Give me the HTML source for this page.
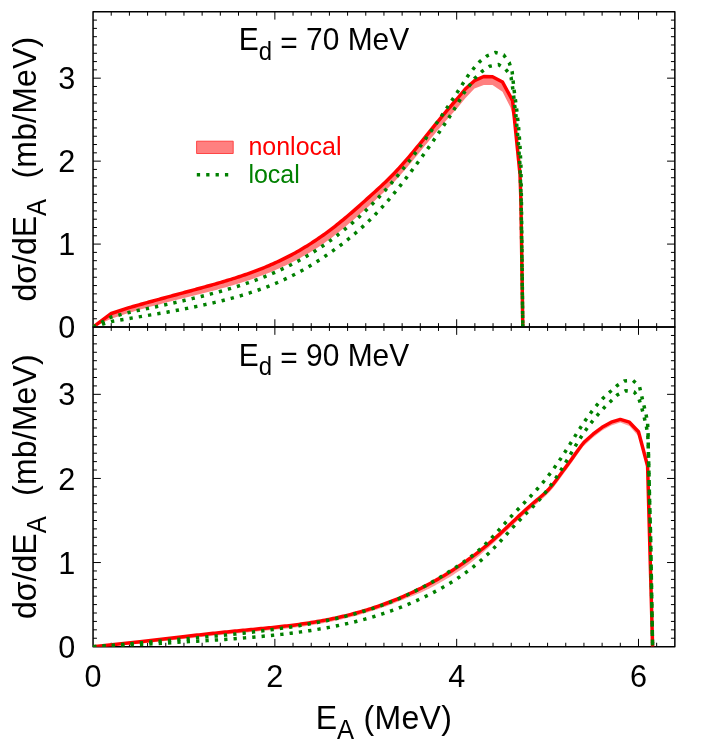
<!DOCTYPE html>
<html><head><meta charset="utf-8"><title>chart</title>
<style>
html,body{margin:0;padding:0;background:#fff;}
body{width:705px;height:743px;overflow:hidden;font-family:"Liberation Sans",sans-serif;}
svg{display:block;will-change:transform;}
text{font-kerning:none;font-variant-ligatures:none;}
</style></head><body>
<svg width="705" height="743" viewBox="0 0 705 743">
<rect width="705" height="743" fill="#fff"/>
<defs><clipPath id="c1"><rect x="93.05" y="11.8" width="581.8000000000001" height="315.25"/></clipPath><clipPath id="c2"><rect x="93.05" y="327.05" width="581.8000000000001" height="319.59999999999997"/></clipPath></defs>
<path d="M111.23,11.8 v3.9 M111.23,327.05 v-3.9 M129.41,11.8 v3.9 M129.41,327.05 v-3.9 M147.59,11.8 v3.9 M147.59,327.05 v-3.9 M165.78,11.8 v3.9 M165.78,327.05 v-3.9 M183.96,11.8 v3.9 M183.96,327.05 v-3.9 M202.14,11.8 v3.9 M202.14,327.05 v-3.9 M220.32,11.8 v3.9 M220.32,327.05 v-3.9 M238.50,11.8 v3.9 M238.50,327.05 v-3.9 M256.68,11.8 v3.9 M256.68,327.05 v-3.9 M274.86,11.8 v7.8 M274.86,327.05 v-7.8 M293.04,11.8 v3.9 M293.04,327.05 v-3.9 M311.23,11.8 v3.9 M311.23,327.05 v-3.9 M329.41,11.8 v3.9 M329.41,327.05 v-3.9 M347.59,11.8 v3.9 M347.59,327.05 v-3.9 M365.77,11.8 v3.9 M365.77,327.05 v-3.9 M383.95,11.8 v3.9 M383.95,327.05 v-3.9 M402.13,11.8 v3.9 M402.13,327.05 v-3.9 M420.31,11.8 v3.9 M420.31,327.05 v-3.9 M438.49,11.8 v3.9 M438.49,327.05 v-3.9 M456.68,11.8 v7.8 M456.68,327.05 v-7.8 M474.86,11.8 v3.9 M474.86,327.05 v-3.9 M493.04,11.8 v3.9 M493.04,327.05 v-3.9 M511.22,11.8 v3.9 M511.22,327.05 v-3.9 M529.40,11.8 v3.9 M529.40,327.05 v-3.9 M547.58,11.8 v3.9 M547.58,327.05 v-3.9 M565.76,11.8 v3.9 M565.76,327.05 v-3.9 M583.94,11.8 v3.9 M583.94,327.05 v-3.9 M602.12,11.8 v3.9 M602.12,327.05 v-3.9 M620.31,11.8 v3.9 M620.31,327.05 v-3.9 M638.49,11.8 v7.8 M638.49,327.05 v-7.8 M656.67,11.8 v3.9 M656.67,327.05 v-3.9 M93.05,318.75 h3.9 M674.85,318.75 h-3.9 M93.05,310.46 h3.9 M674.85,310.46 h-3.9 M93.05,302.16 h3.9 M674.85,302.16 h-3.9 M93.05,293.87 h3.9 M674.85,293.87 h-3.9 M93.05,285.57 h3.9 M674.85,285.57 h-3.9 M93.05,277.27 h3.9 M674.85,277.27 h-3.9 M93.05,268.98 h3.9 M674.85,268.98 h-3.9 M93.05,260.68 h3.9 M674.85,260.68 h-3.9 M93.05,252.39 h3.9 M674.85,252.39 h-3.9 M93.05,244.09 h7.8 M674.85,244.09 h-7.8 M93.05,235.79 h3.9 M674.85,235.79 h-3.9 M93.05,227.50 h3.9 M674.85,227.50 h-3.9 M93.05,219.20 h3.9 M674.85,219.20 h-3.9 M93.05,210.91 h3.9 M674.85,210.91 h-3.9 M93.05,202.61 h3.9 M674.85,202.61 h-3.9 M93.05,194.31 h3.9 M674.85,194.31 h-3.9 M93.05,186.02 h3.9 M674.85,186.02 h-3.9 M93.05,177.72 h3.9 M674.85,177.72 h-3.9 M93.05,169.42 h3.9 M674.85,169.42 h-3.9 M93.05,161.13 h7.8 M674.85,161.13 h-7.8 M93.05,152.83 h3.9 M674.85,152.83 h-3.9 M93.05,144.54 h3.9 M674.85,144.54 h-3.9 M93.05,136.24 h3.9 M674.85,136.24 h-3.9 M93.05,127.94 h3.9 M674.85,127.94 h-3.9 M93.05,119.65 h3.9 M674.85,119.65 h-3.9 M93.05,111.35 h3.9 M674.85,111.35 h-3.9 M93.05,103.06 h3.9 M674.85,103.06 h-3.9 M93.05,94.76 h3.9 M674.85,94.76 h-3.9 M93.05,86.46 h3.9 M674.85,86.46 h-3.9 M93.05,78.17 h7.8 M674.85,78.17 h-7.8 M93.05,69.87 h3.9 M674.85,69.87 h-3.9 M93.05,61.58 h3.9 M674.85,61.58 h-3.9 M93.05,53.28 h3.9 M674.85,53.28 h-3.9 M93.05,44.98 h3.9 M674.85,44.98 h-3.9 M93.05,36.69 h3.9 M674.85,36.69 h-3.9 M93.05,28.39 h3.9 M674.85,28.39 h-3.9 M93.05,20.10 h3.9 M674.85,20.10 h-3.9" fill="none" stroke="#000" stroke-width="1"/>
<rect x="93.05" y="11.8" width="581.8000000000001" height="315.25" fill="none" stroke="#000" stroke-width="1.5" stroke-linejoin="round"/>
<g clip-path="url(#c1)">
<path d="M93.05,327.05 L111.30,313.50 L129.05,307.67 L131.05,307.10 L133.05,306.53 L135.05,305.96 L137.05,305.40 L139.05,304.84 L141.05,304.28 L143.05,303.72 L145.05,303.17 L147.05,302.61 L149.05,302.06 L151.05,301.51 L153.05,300.96 L155.05,300.42 L157.05,299.87 L159.05,299.33 L161.05,298.79 L163.05,298.24 L165.05,297.70 L167.05,297.16 L169.05,296.62 L171.05,296.08 L173.05,295.55 L175.05,295.01 L177.05,294.47 L179.05,293.93 L181.05,293.39 L183.05,292.85 L185.05,292.31 L187.05,291.77 L189.05,291.23 L191.05,290.69 L193.05,290.15 L195.05,289.60 L197.05,289.06 L199.05,288.51 L201.05,287.97 L203.05,287.42 L205.05,286.87 L207.05,286.31 L209.05,285.76 L211.05,285.20 L213.05,284.63 L215.05,284.07 L217.05,283.49 L219.05,282.92 L221.05,282.33 L223.05,281.75 L225.05,281.15 L227.05,280.55 L229.05,279.94 L231.05,279.33 L233.05,278.70 L235.05,278.07 L237.05,277.43 L239.05,276.78 L241.05,276.12 L243.05,275.44 L245.05,274.76 L247.05,274.07 L249.05,273.36 L251.05,272.65 L253.05,271.92 L255.05,271.17 L257.05,270.42 L259.05,269.65 L261.05,268.87 L263.05,268.07 L265.05,267.25 L267.05,266.42 L269.05,265.58 L271.05,264.71 L273.05,263.84 L275.05,262.94 L277.05,262.02 L279.05,261.09 L281.05,260.14 L283.05,259.17 L285.05,258.18 L287.05,257.17 L289.05,256.14 L291.05,255.09 L293.05,254.01 L295.05,252.92 L297.05,251.80 L299.05,250.66 L301.05,249.50 L303.05,248.32 L305.05,247.12 L307.05,245.89 L309.05,244.64 L311.05,243.37 L313.05,242.07 L315.05,240.75 L317.05,239.41 L319.05,238.05 L321.05,236.66 L323.05,235.25 L325.05,233.81 L327.05,232.36 L329.05,230.87 L331.05,229.37 L333.05,227.84 L335.05,226.29 L337.05,224.71 L339.05,223.11 L341.05,221.48 L343.05,219.84 L345.05,218.18 L347.05,216.49 L349.05,214.79 L351.05,213.08 L353.05,211.34 L355.05,209.60 L357.05,207.84 L359.05,206.07 L361.05,204.30 L363.05,202.51 L365.05,200.72 L367.05,198.92 L369.05,197.11 L371.05,195.30 L373.05,193.49 L375.05,191.68 L377.05,189.86 L379.05,188.03 L381.05,186.19 L383.05,184.32 L385.05,182.43 L387.05,180.51 L389.05,178.55 L391.05,176.55 L393.05,174.51 L395.05,172.43 L397.05,170.30 L399.05,168.14 L401.05,165.93 L403.05,163.70 L405.05,161.42 L407.05,159.12 L409.05,156.79 L411.05,154.43 L413.05,152.04 L415.05,149.64 L417.05,147.21 L419.05,144.76 L421.05,142.30 L423.05,139.82 L425.05,137.34 L427.05,134.85 L429.05,132.36 L431.05,129.88 L433.05,127.41 L435.05,124.94 L437.05,122.49 L439.05,120.05 L441.05,117.62 L443.05,115.21 L445.05,112.82 L447.05,110.46 L449.05,108.11 L451.05,105.79 L453.05,103.50 L455.05,101.23 L456.60,99.50 L465.30,89.00 L474.50,80.70 L483.80,76.50 L492.50,76.70 L502.50,82.00 L512.60,100.60 L513.60,120.00 L513.30,118.00 L510.50,107.40 L502.50,91.80 L492.50,85.00 L483.80,85.00 L474.50,88.60 L465.30,98.20 L456.60,108.90 L455.05,110.57 L453.05,112.74 L451.05,114.95 L449.05,117.19 L447.05,119.46 L445.05,121.76 L443.05,124.07 L441.05,126.40 L439.05,128.74 L437.05,131.11 L435.05,133.48 L433.05,135.88 L431.05,138.28 L429.05,140.70 L427.05,143.14 L425.05,145.59 L423.05,148.04 L421.05,150.50 L419.05,152.96 L417.05,155.42 L415.05,157.86 L413.05,160.28 L411.05,162.69 L409.05,165.07 L407.05,167.43 L405.05,169.76 L403.05,172.06 L401.05,174.32 L399.05,176.55 L397.05,178.74 L395.05,180.89 L393.05,183.00 L391.05,185.07 L389.05,187.10 L387.05,189.09 L385.05,191.04 L383.05,192.96 L381.05,194.85 L379.05,196.73 L377.05,198.58 L375.05,200.42 L373.05,202.25 L371.05,204.08 L369.05,205.90 L367.05,207.71 L365.05,209.52 L363.05,211.31 L361.05,213.10 L359.05,214.87 L357.05,216.64 L355.05,218.40 L353.05,220.14 L351.05,221.88 L349.05,223.59 L347.05,225.29 L345.05,226.98 L343.05,228.64 L341.05,230.28 L339.05,231.91 L337.05,233.51 L335.05,235.09 L333.05,236.64 L331.05,238.17 L329.05,239.66 L327.05,241.12 L325.05,242.55 L323.05,243.94 L321.05,245.31 L319.05,246.64 L317.05,247.94 L315.05,249.22 L313.05,250.47 L311.05,251.69 L309.05,252.89 L307.05,254.06 L305.05,255.21 L303.05,256.34 L301.05,257.45 L299.05,258.54 L297.05,259.61 L295.05,260.66 L293.05,261.69 L291.05,262.71 L289.05,263.72 L287.05,264.70 L285.05,265.67 L283.05,266.61 L281.05,267.54 L279.05,268.45 L277.05,269.34 L275.05,270.21 L273.05,271.07 L271.05,271.91 L269.05,272.73 L267.05,273.54 L265.05,274.33 L263.05,275.11 L261.05,275.87 L259.05,276.61 L257.05,277.34 L255.05,278.06 L253.05,278.77 L251.05,279.46 L249.05,280.14 L247.05,280.81 L245.05,281.46 L243.05,282.10 L241.05,282.74 L239.05,283.36 L237.05,283.97 L235.05,284.57 L233.05,285.16 L231.05,285.75 L229.05,286.32 L227.05,286.89 L225.05,287.45 L223.05,288.00 L221.05,288.55 L219.05,289.09 L217.05,289.63 L215.05,290.16 L213.05,290.68 L211.05,291.21 L209.05,291.73 L207.05,292.24 L205.05,292.76 L203.05,293.27 L201.05,293.78 L199.05,294.29 L197.05,294.80 L195.05,295.31 L193.05,295.82 L191.05,296.33 L189.05,296.83 L187.05,297.34 L185.05,297.84 L183.05,298.35 L181.05,298.85 L179.05,299.35 L177.05,299.85 L175.05,300.35 L173.05,300.85 L171.05,301.35 L169.05,301.85 L167.05,302.36 L165.05,302.86 L163.05,303.37 L161.05,303.89 L159.05,304.40 L157.05,304.93 L155.05,305.45 L153.05,305.98 L151.05,306.52 L149.05,307.06 L147.05,307.61 L145.05,308.17 L143.05,308.74 L141.05,309.31 L139.05,309.88 L137.05,310.46 L135.05,311.05 L133.05,311.64 L131.05,312.23 L129.05,312.82 L111.30,318.80 L93.05,327.05Z" fill="#ff8080" stroke="none"/>
<path d="M93.05,327.05 L111.30,313.50 L129.05,307.67 L131.05,307.10 L133.05,306.53 L135.05,305.96 L137.05,305.40 L139.05,304.84 L141.05,304.28 L143.05,303.72 L145.05,303.17 L147.05,302.61 L149.05,302.06 L151.05,301.51 L153.05,300.96 L155.05,300.42 L157.05,299.87 L159.05,299.33 L161.05,298.79 L163.05,298.24 L165.05,297.70 L167.05,297.16 L169.05,296.62 L171.05,296.08 L173.05,295.55 L175.05,295.01 L177.05,294.47 L179.05,293.93 L181.05,293.39 L183.05,292.85 L185.05,292.31 L187.05,291.77 L189.05,291.23 L191.05,290.69 L193.05,290.15 L195.05,289.60 L197.05,289.06 L199.05,288.51 L201.05,287.97 L203.05,287.42 L205.05,286.87 L207.05,286.31 L209.05,285.76 L211.05,285.20 L213.05,284.63 L215.05,284.07 L217.05,283.49 L219.05,282.92 L221.05,282.33 L223.05,281.75 L225.05,281.15 L227.05,280.55 L229.05,279.94 L231.05,279.33 L233.05,278.70 L235.05,278.07 L237.05,277.43 L239.05,276.78 L241.05,276.12 L243.05,275.44 L245.05,274.76 L247.05,274.07 L249.05,273.36 L251.05,272.65 L253.05,271.92 L255.05,271.17 L257.05,270.42 L259.05,269.65 L261.05,268.87 L263.05,268.07 L265.05,267.25 L267.05,266.42 L269.05,265.58 L271.05,264.71 L273.05,263.84 L275.05,262.94 L277.05,262.02 L279.05,261.09 L281.05,260.14 L283.05,259.17 L285.05,258.18 L287.05,257.17 L289.05,256.14 L291.05,255.09 L293.05,254.01 L295.05,252.92 L297.05,251.80 L299.05,250.66 L301.05,249.50 L303.05,248.32 L305.05,247.12 L307.05,245.89 L309.05,244.64 L311.05,243.37 L313.05,242.07 L315.05,240.75 L317.05,239.41 L319.05,238.05 L321.05,236.66 L323.05,235.25 L325.05,233.81 L327.05,232.36 L329.05,230.87 L331.05,229.37 L333.05,227.84 L335.05,226.29 L337.05,224.71 L339.05,223.11 L341.05,221.48 L343.05,219.84 L345.05,218.18 L347.05,216.49 L349.05,214.79 L351.05,213.08 L353.05,211.34 L355.05,209.60 L357.05,207.84 L359.05,206.07 L361.05,204.30 L363.05,202.51 L365.05,200.72 L367.05,198.92 L369.05,197.11 L371.05,195.30 L373.05,193.49 L375.05,191.68 L377.05,189.86 L379.05,188.03 L381.05,186.19 L383.05,184.32 L385.05,182.43 L387.05,180.51 L389.05,178.55 L391.05,176.55 L393.05,174.51 L395.05,172.43 L397.05,170.30 L399.05,168.14 L401.05,165.93 L403.05,163.70 L405.05,161.42 L407.05,159.12 L409.05,156.79 L411.05,154.43 L413.05,152.04 L415.05,149.64 L417.05,147.21 L419.05,144.76 L421.05,142.30 L423.05,139.82 L425.05,137.34 L427.05,134.85 L429.05,132.36 L431.05,129.88 L433.05,127.41 L435.05,124.94 L437.05,122.49 L439.05,120.05 L441.05,117.62 L443.05,115.21 L445.05,112.82 L447.05,110.46 L449.05,108.11 L451.05,105.79 L453.05,103.50 L455.05,101.23 L456.60,99.50 L465.30,89.00 L474.50,80.70 L483.80,76.50 L492.50,76.70 L502.50,82.00 L512.60,100.60 L520.00,174.00 L520.90,200.00 L522.80,327.05" fill="none" stroke="#ff0000" stroke-width="3.5" stroke-linejoin="round"/>
<path d="M93.05,327.05 L111.30,317.00 L129.05,312.47 L131.05,312.00 L133.05,311.54 L135.05,311.09 L137.05,310.66 L139.05,310.24 L141.05,309.82 L143.05,309.41 L145.05,309.01 L147.05,308.60 L149.05,308.19 L151.05,307.78 L153.05,307.37 L155.05,306.95 L157.05,306.53 L159.05,306.11 L161.05,305.69 L163.05,305.26 L165.05,304.83 L167.05,304.39 L169.05,303.95 L171.05,303.51 L173.05,303.07 L175.05,302.62 L177.05,302.17 L179.05,301.71 L181.05,301.25 L183.05,300.79 L185.05,300.32 L187.05,299.85 L189.05,299.38 L191.05,298.90 L193.05,298.42 L195.05,297.94 L197.05,297.45 L199.05,296.95 L201.05,296.45 L203.05,295.95 L205.05,295.44 L207.05,294.93 L209.05,294.42 L211.05,293.90 L213.05,293.37 L215.05,292.83 L217.05,292.29 L219.05,291.75 L221.05,291.19 L223.05,290.63 L225.05,290.06 L227.05,289.49 L229.05,288.90 L231.05,288.31 L233.05,287.70 L235.05,287.09 L237.05,286.47 L239.05,285.83 L241.05,285.19 L243.05,284.54 L245.05,283.87 L247.05,283.19 L249.05,282.51 L251.05,281.81 L253.05,281.09 L255.05,280.37 L257.05,279.63 L259.05,278.88 L261.05,278.11 L263.05,277.33 L265.05,276.54 L267.05,275.73 L269.05,274.90 L271.05,274.06 L273.05,273.21 L275.05,272.33 L277.05,271.44 L279.05,270.54 L281.05,269.62 L283.05,268.68 L285.05,267.72 L287.05,266.74 L289.05,265.75 L291.05,264.74 L293.05,263.70 L295.05,262.65 L297.05,261.58 L299.05,260.49 L301.05,259.38 L303.05,258.24 L305.05,257.09 L307.05,255.91 L309.05,254.72 L311.05,253.50 L313.05,252.26 L315.05,250.99 L317.05,249.71 L319.05,248.40 L321.05,247.07 L323.05,245.71 L325.05,244.33 L327.05,242.93 L329.05,241.50 L331.05,240.04 L333.05,238.57 L335.05,237.06 L337.05,235.53 L339.05,233.98 L341.05,232.40 L343.05,230.79 L345.05,229.16 L347.05,227.50 L349.05,225.81 L351.05,224.09 L353.05,222.35 L355.05,220.58 L357.05,218.78 L359.05,216.95 L361.05,215.10 L363.05,213.21 L365.05,211.30 L367.05,209.35 L369.05,207.38 L371.05,205.37 L373.05,203.34 L375.05,201.27 L377.05,199.18 L379.05,197.05 L381.05,194.89 L383.05,192.69 L385.05,190.47 L387.05,188.21 L389.05,185.92 L391.05,183.60 L393.05,181.25 L395.05,178.86 L397.05,176.44 L399.05,173.99 L401.05,171.51 L403.05,168.99 L405.05,166.45 L407.05,163.88 L409.05,161.29 L411.05,158.66 L413.05,156.01 L415.05,153.34 L417.05,150.64 L419.05,147.92 L421.05,145.17 L423.05,142.40 L425.05,139.61 L427.05,136.80 L429.05,133.97 L431.05,131.12 L433.05,128.25 L435.05,125.36 L437.05,122.46 L439.05,119.54 L441.05,116.60 L443.05,113.65 L445.05,110.69 L447.05,107.71 L449.05,104.72 L451.05,101.71 L453.05,98.70 L455.05,95.67 L457.05,92.64 L457.60,91.80 L467.70,76.10 L474.80,67.00 L479.70,61.70 L487.10,55.80 L495.40,52.50 L503.70,54.90 L509.20,62.60 L512.10,71.40 L513.10,80.90 L514.10,90.10 L515.40,99.70 L516.60,108.70 L517.60,118.10 L518.60,127.50 L520.00,145.80 L520.90,165.70 L521.40,200.00 L522.80,327.05" fill="none" stroke="#008000" stroke-width="3.5" stroke-dasharray="3.3 6.08" stroke-dashoffset="0" stroke-linejoin="round"/>
<path d="M93.05,327.05 L112.70,321.20 L151.05,314.86 L153.05,314.54 L155.05,314.22 L157.05,313.89 L159.05,313.56 L161.05,313.22 L163.05,312.88 L165.05,312.53 L167.05,312.17 L169.05,311.82 L171.05,311.45 L173.05,311.08 L175.05,310.71 L177.05,310.34 L179.05,309.95 L181.05,309.57 L183.05,309.18 L185.05,308.79 L187.05,308.40 L189.05,308.00 L191.05,307.60 L193.05,307.19 L195.05,306.78 L197.05,306.37 L199.05,305.95 L201.05,305.52 L203.05,305.09 L205.05,304.66 L207.05,304.22 L209.05,303.77 L211.05,303.32 L213.05,302.86 L215.05,302.39 L217.05,301.92 L219.05,301.44 L221.05,300.95 L223.05,300.45 L225.05,299.94 L227.05,299.43 L229.05,298.90 L231.05,298.37 L233.05,297.83 L235.05,297.27 L237.05,296.71 L239.05,296.14 L241.05,295.56 L243.05,294.96 L245.05,294.35 L247.05,293.74 L249.05,293.11 L251.05,292.46 L253.05,291.81 L255.05,291.14 L257.05,290.46 L259.05,289.76 L261.05,289.05 L263.05,288.32 L265.05,287.57 L267.05,286.82 L269.05,286.04 L271.05,285.25 L273.05,284.44 L275.05,283.61 L277.05,282.76 L279.05,281.90 L281.05,281.01 L283.05,280.11 L285.05,279.19 L287.05,278.24 L289.05,277.28 L291.05,276.29 L293.05,275.29 L295.05,274.26 L297.05,273.20 L299.05,272.13 L301.05,271.04 L303.05,269.92 L305.05,268.78 L307.05,267.62 L309.05,266.44 L311.05,265.24 L313.05,264.02 L315.05,262.77 L317.05,261.51 L319.05,260.22 L321.05,258.92 L323.05,257.59 L325.05,256.25 L327.05,254.89 L329.05,253.50 L331.05,252.10 L333.05,250.68 L335.05,249.23 L337.05,247.77 L339.05,246.29 L341.05,244.78 L343.05,243.25 L345.05,241.69 L347.05,240.11 L349.05,238.50 L351.05,236.86 L353.05,235.20 L355.05,233.50 L357.05,231.77 L359.05,230.01 L361.05,228.22 L363.05,226.39 L365.05,224.54 L367.05,222.64 L369.05,220.72 L371.05,218.75 L373.05,216.75 L375.05,214.72 L377.05,212.64 L379.05,210.53 L381.05,208.38 L383.05,206.19 L385.05,203.96 L387.05,201.69 L389.05,199.37 L391.05,197.01 L393.05,194.62 L395.05,192.18 L397.05,189.72 L399.05,187.21 L401.05,184.68 L403.05,182.12 L405.05,179.52 L407.05,176.91 L409.05,174.27 L411.05,171.61 L413.05,168.94 L415.05,166.24 L417.05,163.53 L419.05,160.80 L421.05,158.05 L423.05,155.29 L425.05,152.51 L427.05,149.70 L429.05,146.88 L431.05,144.05 L433.05,141.19 L435.05,138.32 L437.05,135.42 L439.05,132.51 L441.05,129.56 L443.05,126.59 L445.05,123.58 L447.05,120.54 L449.05,117.46 L451.05,114.33 L453.05,111.16 L455.05,107.93 L457.05,104.65 L459.05,101.31 L461.05,97.90 L463.05,94.42 L463.80,93.10 L475.10,77.90 L481.90,71.50 L489.70,66.30 L498.50,64.50 L505.50,69.10 L509.60,74.00 L511.10,77.40 L512.40,86.00 L513.60,95.30 L514.60,104.70 L515.80,114.10 L516.60,123.20 L518.60,145.80 L520.00,165.70 L521.10,200.00 L522.80,327.05" fill="none" stroke="#008000" stroke-width="3.5" stroke-dasharray="3.3 6.08" stroke-dashoffset="0" stroke-linejoin="round"/>
</g>
<path d="M111.23,327.05 v3.9 M111.23,646.65 v-3.9 M129.41,327.05 v3.9 M129.41,646.65 v-3.9 M147.59,327.05 v3.9 M147.59,646.65 v-3.9 M165.78,327.05 v3.9 M165.78,646.65 v-3.9 M183.96,327.05 v3.9 M183.96,646.65 v-3.9 M202.14,327.05 v3.9 M202.14,646.65 v-3.9 M220.32,327.05 v3.9 M220.32,646.65 v-3.9 M238.50,327.05 v3.9 M238.50,646.65 v-3.9 M256.68,327.05 v3.9 M256.68,646.65 v-3.9 M274.86,327.05 v7.8 M274.86,646.65 v-7.8 M293.04,327.05 v3.9 M293.04,646.65 v-3.9 M311.23,327.05 v3.9 M311.23,646.65 v-3.9 M329.41,327.05 v3.9 M329.41,646.65 v-3.9 M347.59,327.05 v3.9 M347.59,646.65 v-3.9 M365.77,327.05 v3.9 M365.77,646.65 v-3.9 M383.95,327.05 v3.9 M383.95,646.65 v-3.9 M402.13,327.05 v3.9 M402.13,646.65 v-3.9 M420.31,327.05 v3.9 M420.31,646.65 v-3.9 M438.49,327.05 v3.9 M438.49,646.65 v-3.9 M456.68,327.05 v7.8 M456.68,646.65 v-7.8 M474.86,327.05 v3.9 M474.86,646.65 v-3.9 M493.04,327.05 v3.9 M493.04,646.65 v-3.9 M511.22,327.05 v3.9 M511.22,646.65 v-3.9 M529.40,327.05 v3.9 M529.40,646.65 v-3.9 M547.58,327.05 v3.9 M547.58,646.65 v-3.9 M565.76,327.05 v3.9 M565.76,646.65 v-3.9 M583.94,327.05 v3.9 M583.94,646.65 v-3.9 M602.12,327.05 v3.9 M602.12,646.65 v-3.9 M620.31,327.05 v3.9 M620.31,646.65 v-3.9 M638.49,327.05 v7.8 M638.49,646.65 v-7.8 M656.67,327.05 v3.9 M656.67,646.65 v-3.9 M93.05,638.24 h3.9 M674.85,638.24 h-3.9 M93.05,629.83 h3.9 M674.85,629.83 h-3.9 M93.05,621.42 h3.9 M674.85,621.42 h-3.9 M93.05,613.01 h3.9 M674.85,613.01 h-3.9 M93.05,604.60 h3.9 M674.85,604.60 h-3.9 M93.05,596.19 h3.9 M674.85,596.19 h-3.9 M93.05,587.78 h3.9 M674.85,587.78 h-3.9 M93.05,579.37 h3.9 M674.85,579.37 h-3.9 M93.05,570.96 h3.9 M674.85,570.96 h-3.9 M93.05,562.54 h7.8 M674.85,562.54 h-7.8 M93.05,554.13 h3.9 M674.85,554.13 h-3.9 M93.05,545.72 h3.9 M674.85,545.72 h-3.9 M93.05,537.31 h3.9 M674.85,537.31 h-3.9 M93.05,528.90 h3.9 M674.85,528.90 h-3.9 M93.05,520.49 h3.9 M674.85,520.49 h-3.9 M93.05,512.08 h3.9 M674.85,512.08 h-3.9 M93.05,503.67 h3.9 M674.85,503.67 h-3.9 M93.05,495.26 h3.9 M674.85,495.26 h-3.9 M93.05,486.85 h3.9 M674.85,486.85 h-3.9 M93.05,478.44 h7.8 M674.85,478.44 h-7.8 M93.05,470.03 h3.9 M674.85,470.03 h-3.9 M93.05,461.62 h3.9 M674.85,461.62 h-3.9 M93.05,453.21 h3.9 M674.85,453.21 h-3.9 M93.05,444.80 h3.9 M674.85,444.80 h-3.9 M93.05,436.39 h3.9 M674.85,436.39 h-3.9 M93.05,427.98 h3.9 M674.85,427.98 h-3.9 M93.05,419.57 h3.9 M674.85,419.57 h-3.9 M93.05,411.16 h3.9 M674.85,411.16 h-3.9 M93.05,402.74 h3.9 M674.85,402.74 h-3.9 M93.05,394.33 h7.8 M674.85,394.33 h-7.8 M93.05,385.92 h3.9 M674.85,385.92 h-3.9 M93.05,377.51 h3.9 M674.85,377.51 h-3.9 M93.05,369.10 h3.9 M674.85,369.10 h-3.9 M93.05,360.69 h3.9 M674.85,360.69 h-3.9 M93.05,352.28 h3.9 M674.85,352.28 h-3.9 M93.05,343.87 h3.9 M674.85,343.87 h-3.9 M93.05,335.46 h3.9 M674.85,335.46 h-3.9" fill="none" stroke="#000" stroke-width="1"/>
<rect x="93.05" y="327.05" width="581.8000000000001" height="319.59999999999997" fill="none" stroke="#000" stroke-width="1.5" stroke-linejoin="round"/>
<g clip-path="url(#c2)">
<path d="M93.05,646.65 L140.00,641.80 L185.05,636.44 L187.05,636.22 L189.05,635.99 L191.05,635.77 L193.05,635.55 L195.05,635.32 L197.05,635.10 L199.05,634.88 L201.05,634.66 L203.05,634.44 L205.05,634.23 L207.05,634.01 L209.05,633.79 L211.05,633.58 L213.05,633.36 L215.05,633.15 L217.05,632.94 L219.05,632.73 L221.05,632.52 L223.05,632.31 L225.05,632.11 L227.05,631.90 L229.05,631.70 L231.05,631.50 L233.05,631.30 L235.05,631.10 L237.05,630.90 L239.05,630.71 L241.05,630.52 L243.05,630.32 L245.05,630.13 L247.05,629.94 L249.05,629.75 L251.05,629.57 L253.05,629.38 L255.05,629.19 L257.05,629.00 L259.05,628.81 L261.05,628.61 L263.05,628.42 L265.05,628.22 L267.05,628.03 L269.05,627.83 L271.05,627.62 L273.05,627.42 L275.05,627.21 L277.05,627.00 L279.05,626.78 L281.05,626.56 L283.05,626.34 L285.05,626.11 L287.05,625.88 L289.05,625.64 L291.05,625.40 L293.05,625.15 L295.05,624.89 L297.05,624.63 L299.05,624.36 L301.05,624.08 L303.05,623.80 L305.05,623.51 L307.05,623.21 L309.05,622.91 L311.05,622.59 L313.05,622.27 L315.05,621.94 L317.05,621.60 L319.05,621.25 L321.05,620.89 L323.05,620.53 L325.05,620.15 L327.05,619.76 L329.05,619.37 L331.05,618.96 L333.05,618.54 L335.05,618.12 L337.05,617.68 L339.05,617.23 L341.05,616.78 L343.05,616.31 L345.05,615.83 L347.05,615.34 L349.05,614.84 L351.05,614.33 L353.05,613.80 L355.05,613.27 L357.05,612.72 L359.05,612.16 L361.05,611.59 L363.05,611.01 L365.05,610.41 L367.05,609.80 L369.05,609.18 L371.05,608.55 L373.05,607.91 L375.05,607.25 L377.05,606.57 L379.05,605.89 L381.05,605.19 L383.05,604.48 L385.05,603.75 L387.05,603.01 L389.05,602.26 L391.05,601.49 L393.05,600.71 L395.05,599.92 L397.05,599.11 L399.05,598.28 L401.05,597.44 L403.05,596.59 L405.05,595.72 L407.05,594.83 L409.05,593.93 L411.05,593.01 L413.05,592.08 L415.05,591.13 L417.05,590.17 L419.05,589.19 L421.05,588.20 L423.05,587.18 L425.05,586.16 L427.05,585.11 L429.05,584.05 L431.05,582.97 L433.05,581.87 L435.05,580.76 L437.05,579.63 L439.05,578.48 L441.05,577.32 L443.05,576.13 L445.05,574.93 L447.05,573.71 L449.05,572.47 L451.05,571.22 L453.05,569.94 L455.05,568.65 L457.05,567.34 L459.05,566.01 L461.05,564.65 L463.05,563.28 L465.05,561.89 L467.05,560.47 L469.05,559.03 L471.05,557.57 L473.05,556.09 L475.05,554.59 L477.05,553.06 L479.05,551.51 L481.05,549.94 L483.05,548.34 L485.05,546.71 L487.05,545.06 L489.05,543.39 L491.05,541.69 L493.05,539.97 L495.05,538.21 L497.05,536.43 L499.05,534.63 L501.05,532.80 L503.05,530.95 L505.05,529.09 L507.05,527.22 L509.05,525.33 L511.05,523.44 L513.05,521.55 L515.05,519.66 L517.05,517.78 L519.05,515.90 L521.05,514.03 L523.05,512.18 L525.05,510.35 L527.05,508.54 L529.05,506.75 L531.05,504.99 L533.05,503.27 L535.05,501.58 L537.05,499.91 L539.05,498.24 L541.05,496.54 L543.05,494.78 L545.05,492.95 L547.05,491.01 L549.05,488.93 L551.05,486.70 L553.05,484.29 L555.05,481.73 L557.05,479.07 L559.05,476.33 L561.05,473.57 L563.05,470.82 L565.05,468.10 L567.05,465.39 L569.05,462.67 L571.05,459.92 L573.05,457.14 L575.05,454.33 L577.05,451.53 L579.05,448.76 L581.05,446.07 L583.05,443.48 L584.00,442.30 L593.00,434.20 L602.10,427.30 L611.20,422.20 L620.30,419.40 L629.40,422.20 L638.50,431.80 L647.60,466.00 L647.60,467.34 L638.50,436.22 L629.40,426.05 L620.30,422.60 L611.20,425.40 L602.10,430.50 L593.00,437.43 L584.00,445.64 L583.05,446.84 L581.05,449.46 L579.05,452.18 L577.05,454.97 L575.05,457.80 L573.05,460.64 L571.05,463.45 L569.05,466.22 L567.05,468.95 L565.05,471.68 L563.05,474.42 L561.05,477.17 L559.05,479.93 L557.05,482.67 L555.05,485.33 L553.05,487.88 L551.05,490.28 L549.05,492.51 L547.05,494.58 L545.05,496.52 L543.05,498.34 L541.05,500.09 L539.05,501.78 L537.05,503.44 L535.05,505.10 L533.05,506.78 L531.05,508.50 L529.05,510.25 L527.05,512.02 L525.05,513.82 L523.05,515.65 L521.05,517.49 L519.05,519.35 L517.05,521.22 L515.05,523.09 L513.05,524.98 L511.05,526.86 L509.05,528.75 L507.05,530.62 L505.05,532.50 L503.05,534.36 L501.05,536.20 L499.05,538.03 L497.05,539.87 L495.05,541.70 L493.05,543.53 L491.05,545.35 L489.05,547.16 L487.05,548.96 L485.05,550.74 L483.05,552.50 L481.05,554.24 L479.05,555.94 L477.05,557.62 L475.05,559.27 L473.05,560.88 L471.05,562.45 L469.05,563.97 L467.05,565.45 L465.05,566.89 L463.05,568.28 L461.05,569.65 L459.05,570.99 L457.05,572.31 L455.05,573.61 L453.05,574.89 L451.05,576.14 L449.05,577.38 L447.05,578.59 L445.05,579.78 L443.05,580.96 L441.05,582.11 L439.05,583.24 L437.05,584.36 L435.05,585.45 L433.05,586.53 L431.05,587.59 L429.05,588.63 L427.05,589.62 L425.05,590.58 L423.05,591.50 L421.05,592.39 L419.05,593.25 L417.05,594.08 L415.05,594.90 L413.05,595.70 L411.05,596.49 L409.05,597.28 L407.05,598.07 L405.05,598.85 L403.05,599.65 L401.05,600.45 L399.05,601.27 L397.05,602.08 L395.05,602.87 L393.05,603.66 L391.05,604.42 L389.05,605.17 L387.05,605.91 L385.05,606.64 L383.05,607.35 L381.05,608.05 L379.05,608.74 L377.05,609.41 L375.05,610.08 L373.05,610.72 L371.05,611.36 L369.05,611.98 L367.05,612.60 L365.05,613.19 L363.05,613.78 L361.05,614.36 L359.05,614.92 L357.05,615.47 L355.05,616.01 L353.05,616.54 L351.05,617.06 L349.05,617.57 L347.05,618.06 L345.05,618.55 L343.05,619.02 L341.05,619.48 L339.05,619.93 L337.05,620.38 L335.05,620.81 L333.05,621.23 L331.05,621.64 L329.05,622.04 L327.05,622.43 L325.05,622.82 L323.05,623.19 L321.05,623.55 L319.05,623.90 L317.05,624.25 L315.05,624.58 L313.05,624.91 L311.05,625.23 L309.05,625.54 L307.05,625.84 L305.05,626.13 L303.05,626.41 L301.05,626.69 L299.05,626.96 L297.05,627.22 L295.05,627.47 L293.05,627.72 L291.05,627.97 L289.05,628.21 L287.05,628.44 L285.05,628.67 L283.05,628.89 L281.05,629.11 L279.05,629.33 L277.05,629.54 L275.05,629.74 L273.05,629.95 L271.05,630.15 L269.05,630.35 L267.05,630.54 L265.05,630.74 L263.05,630.93 L261.05,631.12 L259.05,631.31 L257.05,631.50 L255.05,631.68 L253.05,631.87 L251.05,632.05 L249.05,632.24 L247.05,632.43 L245.05,632.61 L243.05,632.80 L241.05,632.99 L239.05,633.18 L237.05,633.37 L235.05,633.57 L233.05,633.76 L231.05,633.96 L229.05,634.15 L227.05,634.35 L225.05,634.56 L223.05,634.76 L221.05,634.96 L219.05,635.17 L217.05,635.37 L215.05,635.58 L213.05,635.79 L211.05,636.00 L209.05,636.21 L207.05,636.42 L205.05,636.63 L203.05,636.85 L201.05,637.06 L199.05,637.28 L197.05,637.49 L195.05,637.71 L193.05,637.92 L191.05,638.14 L189.05,638.36 L187.05,638.58 L185.05,638.80 L140.00,643.85 L93.05,646.65Z" fill="#ff9c9c" stroke="none"/>
<path d="M93.05,646.65 L140.00,641.80 L185.05,636.44 L187.05,636.22 L189.05,635.99 L191.05,635.77 L193.05,635.55 L195.05,635.32 L197.05,635.10 L199.05,634.88 L201.05,634.66 L203.05,634.44 L205.05,634.23 L207.05,634.01 L209.05,633.79 L211.05,633.58 L213.05,633.36 L215.05,633.15 L217.05,632.94 L219.05,632.73 L221.05,632.52 L223.05,632.31 L225.05,632.11 L227.05,631.90 L229.05,631.70 L231.05,631.50 L233.05,631.30 L235.05,631.10 L237.05,630.90 L239.05,630.71 L241.05,630.52 L243.05,630.32 L245.05,630.13 L247.05,629.94 L249.05,629.75 L251.05,629.57 L253.05,629.38 L255.05,629.19 L257.05,629.00 L259.05,628.81 L261.05,628.61 L263.05,628.42 L265.05,628.22 L267.05,628.03 L269.05,627.83 L271.05,627.62 L273.05,627.42 L275.05,627.21 L277.05,627.00 L279.05,626.78 L281.05,626.56 L283.05,626.34 L285.05,626.11 L287.05,625.88 L289.05,625.64 L291.05,625.40 L293.05,625.15 L295.05,624.89 L297.05,624.63 L299.05,624.36 L301.05,624.08 L303.05,623.80 L305.05,623.51 L307.05,623.21 L309.05,622.91 L311.05,622.59 L313.05,622.27 L315.05,621.94 L317.05,621.60 L319.05,621.25 L321.05,620.89 L323.05,620.53 L325.05,620.15 L327.05,619.76 L329.05,619.37 L331.05,618.96 L333.05,618.54 L335.05,618.12 L337.05,617.68 L339.05,617.23 L341.05,616.78 L343.05,616.31 L345.05,615.83 L347.05,615.34 L349.05,614.84 L351.05,614.33 L353.05,613.80 L355.05,613.27 L357.05,612.72 L359.05,612.16 L361.05,611.59 L363.05,611.01 L365.05,610.41 L367.05,609.80 L369.05,609.18 L371.05,608.55 L373.05,607.91 L375.05,607.25 L377.05,606.57 L379.05,605.89 L381.05,605.19 L383.05,604.48 L385.05,603.75 L387.05,603.01 L389.05,602.26 L391.05,601.49 L393.05,600.71 L395.05,599.92 L397.05,599.11 L399.05,598.28 L401.05,597.44 L403.05,596.59 L405.05,595.72 L407.05,594.83 L409.05,593.93 L411.05,593.01 L413.05,592.08 L415.05,591.13 L417.05,590.17 L419.05,589.19 L421.05,588.20 L423.05,587.18 L425.05,586.16 L427.05,585.11 L429.05,584.05 L431.05,582.97 L433.05,581.87 L435.05,580.76 L437.05,579.63 L439.05,578.48 L441.05,577.32 L443.05,576.13 L445.05,574.93 L447.05,573.71 L449.05,572.47 L451.05,571.22 L453.05,569.94 L455.05,568.65 L457.05,567.34 L459.05,566.01 L461.05,564.65 L463.05,563.28 L465.05,561.89 L467.05,560.47 L469.05,559.03 L471.05,557.57 L473.05,556.09 L475.05,554.59 L477.05,553.06 L479.05,551.51 L481.05,549.94 L483.05,548.34 L485.05,546.71 L487.05,545.06 L489.05,543.39 L491.05,541.69 L493.05,539.97 L495.05,538.21 L497.05,536.43 L499.05,534.63 L501.05,532.80 L503.05,530.95 L505.05,529.09 L507.05,527.22 L509.05,525.33 L511.05,523.44 L513.05,521.55 L515.05,519.66 L517.05,517.78 L519.05,515.90 L521.05,514.03 L523.05,512.18 L525.05,510.35 L527.05,508.54 L529.05,506.75 L531.05,504.99 L533.05,503.27 L535.05,501.58 L537.05,499.91 L539.05,498.24 L541.05,496.54 L543.05,494.78 L545.05,492.95 L547.05,491.01 L549.05,488.93 L551.05,486.70 L553.05,484.29 L555.05,481.73 L557.05,479.07 L559.05,476.33 L561.05,473.57 L563.05,470.82 L565.05,468.10 L567.05,465.39 L569.05,462.67 L571.05,459.92 L573.05,457.14 L575.05,454.33 L577.05,451.53 L579.05,448.76 L581.05,446.07 L583.05,443.48 L584.00,442.30 L593.00,434.20 L602.10,427.30 L611.20,422.20 L620.30,419.40 L629.40,422.20 L638.50,431.80 L647.60,466.00 L649.80,545.00 L652.60,646.65" fill="none" stroke="#ff0000" stroke-width="3.5" stroke-linejoin="round"/>
<path d="M93.05,646.65 L140.00,643.00 L189.05,638.48 L191.05,638.30 L193.05,638.13 L195.05,637.95 L197.05,637.77 L199.05,637.59 L201.05,637.41 L203.05,637.23 L205.05,637.05 L207.05,636.86 L209.05,636.67 L211.05,636.49 L213.05,636.30 L215.05,636.10 L217.05,635.91 L219.05,635.71 L221.05,635.52 L223.05,635.32 L225.05,635.11 L227.05,634.91 L229.05,634.70 L231.05,634.50 L233.05,634.29 L235.05,634.07 L237.05,633.86 L239.05,633.64 L241.05,633.42 L243.05,633.20 L245.05,632.97 L247.05,632.74 L249.05,632.51 L251.05,632.28 L253.05,632.04 L255.05,631.80 L257.05,631.56 L259.05,631.31 L261.05,631.06 L263.05,630.81 L265.05,630.55 L267.05,630.29 L269.05,630.03 L271.05,629.76 L273.05,629.49 L275.05,629.22 L277.05,628.95 L279.05,628.67 L281.05,628.38 L283.05,628.09 L285.05,627.80 L287.05,627.51 L289.05,627.21 L291.05,626.90 L293.05,626.60 L295.05,626.28 L297.05,625.97 L299.05,625.65 L301.05,625.32 L303.05,624.99 L305.05,624.65 L307.05,624.31 L309.05,623.96 L311.05,623.60 L313.05,623.24 L315.05,622.87 L317.05,622.50 L319.05,622.12 L321.05,621.73 L323.05,621.33 L325.05,620.93 L327.05,620.52 L329.05,620.10 L331.05,619.67 L333.05,619.23 L335.05,618.78 L337.05,618.33 L339.05,617.86 L341.05,617.39 L343.05,616.91 L345.05,616.41 L347.05,615.91 L349.05,615.40 L351.05,614.87 L353.05,614.34 L355.05,613.79 L357.05,613.23 L359.05,612.66 L361.05,612.08 L363.05,611.49 L365.05,610.88 L367.05,610.27 L369.05,609.64 L371.05,608.99 L373.05,608.34 L375.05,607.67 L377.05,606.99 L379.05,606.29 L381.05,605.58 L383.05,604.86 L385.05,604.12 L387.05,603.37 L389.05,602.60 L391.05,601.82 L393.05,601.02 L395.05,600.21 L397.05,599.38 L399.05,598.53 L401.05,597.67 L403.05,596.79 L405.05,595.90 L407.05,594.99 L409.05,594.06 L411.05,593.12 L413.05,592.16 L415.05,591.18 L417.05,590.18 L419.05,589.16 L421.05,588.13 L423.05,587.07 L425.05,586.00 L427.05,584.91 L429.05,583.80 L431.05,582.68 L433.05,581.53 L435.05,580.37 L437.05,579.19 L439.05,578.00 L441.05,576.79 L443.05,575.56 L445.05,574.32 L447.05,573.06 L449.05,571.78 L451.05,570.49 L453.05,569.19 L455.05,567.87 L457.05,566.54 L459.05,565.20 L461.05,563.83 L463.05,562.44 L465.05,561.03 L467.05,559.58 L469.05,558.10 L471.05,556.58 L473.05,555.02 L475.05,553.42 L477.05,551.76 L479.05,550.06 L481.05,548.29 L483.05,546.47 L485.05,544.58 L487.05,542.62 L489.05,540.60 L491.05,538.53 L493.05,536.40 L495.05,534.24 L497.05,532.05 L499.05,529.83 L501.05,527.60 L503.05,525.37 L505.05,523.14 L507.05,520.92 L509.05,518.72 L511.05,516.55 L513.05,514.41 L515.05,512.30 L517.05,510.22 L519.05,508.16 L521.05,506.11 L523.05,504.06 L525.05,502.00 L527.05,499.94 L529.05,497.86 L531.05,495.76 L533.05,493.63 L535.05,491.46 L537.05,489.25 L539.05,486.99 L541.05,484.68 L543.05,482.31 L545.05,479.89 L547.05,477.41 L549.05,474.86 L551.05,472.25 L553.05,469.57 L555.05,466.82 L557.05,464.00 L559.05,461.10 L561.05,458.12 L563.05,455.07 L565.05,451.97 L567.05,448.83 L569.05,445.65 L571.05,442.46 L573.05,439.27 L575.05,436.09 L577.05,432.93 L579.05,429.82 L581.05,426.76 L583.05,423.76 L585.05,420.82 L587.05,417.96 L589.05,415.17 L591.05,412.47 L593.05,409.85 L595.05,407.32 L597.05,404.89 L599.05,402.56 L601.05,400.33 L603.05,398.21 L605.05,396.21 L607.05,394.34 L609.05,392.58 L611.00,391.00 L616.90,385.80 L624.40,380.90 L633.00,380.50 L639.50,386.50 L643.70,404.80 L645.90,413.40 L647.60,423.30 L648.10,434.00 L648.40,452.00 L648.70,462.50 L649.50,497.70 L650.60,536.80 L652.60,646.65" fill="none" stroke="#008000" stroke-width="3.5" stroke-dasharray="3.3 6.08" stroke-dashoffset="0" stroke-linejoin="round"/>
<path d="M93.05,646.65 L140.00,644.60 L189.05,641.61 L191.05,641.50 L193.05,641.39 L195.05,641.27 L197.05,641.16 L199.05,641.05 L201.05,640.93 L203.05,640.81 L205.05,640.69 L207.05,640.57 L209.05,640.45 L211.05,640.33 L213.05,640.20 L215.05,640.07 L217.05,639.94 L219.05,639.81 L221.05,639.68 L223.05,639.54 L225.05,639.40 L227.05,639.26 L229.05,639.12 L231.05,638.97 L233.05,638.82 L235.05,638.67 L237.05,638.52 L239.05,638.36 L241.05,638.20 L243.05,638.04 L245.05,637.88 L247.05,637.71 L249.05,637.54 L251.05,637.37 L253.05,637.19 L255.05,637.01 L257.05,636.83 L259.05,636.65 L261.05,636.46 L263.05,636.26 L265.05,636.07 L267.05,635.87 L269.05,635.67 L271.05,635.46 L273.05,635.25 L275.05,635.04 L277.05,634.82 L279.05,634.60 L281.05,634.37 L283.05,634.14 L285.05,633.91 L287.05,633.67 L289.05,633.43 L291.05,633.18 L293.05,632.93 L295.05,632.67 L297.05,632.41 L299.05,632.14 L301.05,631.86 L303.05,631.58 L305.05,631.30 L307.05,631.01 L309.05,630.71 L311.05,630.41 L313.05,630.10 L315.05,629.78 L317.05,629.45 L319.05,629.12 L321.05,628.78 L323.05,628.44 L325.05,628.08 L327.05,627.72 L329.05,627.35 L331.05,626.97 L333.05,626.59 L335.05,626.19 L337.05,625.79 L339.05,625.37 L341.05,624.95 L343.05,624.52 L345.05,624.08 L347.05,623.63 L349.05,623.17 L351.05,622.70 L353.05,622.22 L355.05,621.73 L357.05,621.23 L359.05,620.72 L361.05,620.19 L363.05,619.66 L365.05,619.12 L367.05,618.56 L369.05,617.99 L371.05,617.41 L373.05,616.82 L375.05,616.22 L377.05,615.60 L379.05,614.97 L381.05,614.33 L383.05,613.68 L385.05,613.01 L387.05,612.33 L389.05,611.64 L391.05,610.93 L393.05,610.21 L395.05,609.48 L397.05,608.73 L399.05,607.97 L401.05,607.19 L403.05,606.40 L405.05,605.59 L407.05,604.77 L409.05,603.93 L411.05,603.08 L413.05,602.22 L415.05,601.33 L417.05,600.44 L419.05,599.52 L421.05,598.59 L423.05,597.64 L425.05,596.68 L427.05,595.70 L429.05,594.70 L431.05,593.69 L433.05,592.66 L435.05,591.61 L437.05,590.54 L439.05,589.46 L441.05,588.35 L443.05,587.22 L445.05,586.07 L447.05,584.90 L449.05,583.70 L451.05,582.48 L453.05,581.23 L455.05,579.95 L457.05,578.64 L459.05,577.30 L461.05,575.94 L463.05,574.54 L465.05,573.10 L467.05,571.63 L469.05,570.13 L471.05,568.59 L473.05,567.02 L475.05,565.40 L477.05,563.75 L479.05,562.05 L481.05,560.31 L483.05,558.53 L485.05,556.71 L487.05,554.84 L489.05,552.93 L491.05,550.96 L493.05,548.96 L495.05,546.90 L497.05,544.79 L499.05,542.65 L501.05,540.47 L503.05,538.27 L505.05,536.06 L507.05,533.83 L509.05,531.61 L511.05,529.39 L513.05,527.19 L515.05,525.01 L517.05,522.86 L519.05,520.74 L521.05,518.67 L523.05,516.64 L525.05,514.62 L527.05,512.62 L529.05,510.62 L531.05,508.59 L533.05,506.54 L535.05,504.44 L537.05,502.29 L539.05,500.07 L541.05,497.76 L543.05,495.37 L545.05,492.89 L547.05,490.32 L549.05,487.67 L551.05,484.94 L553.05,482.12 L555.05,479.22 L557.05,476.23 L559.05,473.15 L561.05,470.00 L563.05,466.76 L565.05,463.45 L567.05,460.10 L569.05,456.72 L571.05,453.33 L573.05,449.96 L575.05,446.61 L577.05,443.32 L579.05,440.11 L581.05,436.98 L583.05,433.96 L585.05,431.05 L587.05,428.23 L589.05,425.52 L591.05,422.89 L593.05,420.35 L595.05,417.90 L597.05,415.53 L599.05,413.24 L601.05,411.03 L603.05,408.88 L605.05,406.80 L607.05,404.78 L609.05,402.82 L611.05,400.92 L611.50,400.50 L617.30,394.90 L625.50,390.80 L634.10,391.90 L638.60,397.70 L641.60,407.40 L644.10,416.90 L646.30,426.00 L647.80,435.00 L648.40,452.00 L648.70,462.50 L649.50,497.70 L650.60,536.80 L652.60,646.65" fill="none" stroke="#008000" stroke-width="3.5" stroke-dasharray="3.3 6.08" stroke-dashoffset="0" stroke-linejoin="round"/>
</g>
<rect x="196.6" y="141.2" width="36.6" height="12.3" fill="#ff8080" stroke="#ff3838" stroke-width="0.9" stroke-linejoin="round"/>
<path d="M196.8,174.7 H229" stroke="#008000" stroke-width="3.4" stroke-dasharray="3.3 6.08" fill="none"/>
<g font-family="'Liberation Sans', sans-serif" fill="#000"><text transform="translate(75.30,338.15) scale(1,1.05)" font-size="30.6" text-anchor="end">0</text>
<text transform="translate(75.30,255.19) scale(1,1.05)" font-size="30.6" text-anchor="end">1</text>
<text transform="translate(75.30,172.23) scale(1,1.05)" font-size="30.6" text-anchor="end">2</text>
<text transform="translate(75.30,89.27) scale(1,1.05)" font-size="30.6" text-anchor="end">3</text>
<text transform="translate(75.30,657.75) scale(1,1.05)" font-size="30.6" text-anchor="end">0</text>
<text transform="translate(75.30,573.64) scale(1,1.05)" font-size="30.6" text-anchor="end">1</text>
<text transform="translate(75.30,489.54) scale(1,1.05)" font-size="30.6" text-anchor="end">2</text>
<text transform="translate(75.30,405.43) scale(1,1.05)" font-size="30.6" text-anchor="end">3</text>
<text transform="translate(93.05,687.00) scale(1,1.03)" font-size="30.6" text-anchor="middle">0</text>
<text transform="translate(274.86,687.00) scale(1,1.03)" font-size="30.6" text-anchor="middle">2</text>
<text transform="translate(456.68,687.00) scale(1,1.03)" font-size="30.6" text-anchor="middle">4</text>
<text transform="translate(638.49,687.00) scale(1,1.03)" font-size="30.6" text-anchor="middle">6</text>
<text transform="translate(315.70,729.30) scale(1,1.06)" font-size="32.0" text-anchor="start">E<tspan font-size="25.60" dy="9.60">A</tspan><tspan dy="-9.60" dx="0.3" letter-spacing="0.3"> (MeV)</tspan></text>
<text transform="translate(238.80,50.40) scale(1,1.05)" font-size="29.9" text-anchor="start">E<tspan font-size="23.92" dy="8.97">d</tspan><tspan dy="-6.67"> =</tspan><tspan dy="-2.3"> 70 MeV</tspan></text>
<text transform="translate(238.80,365.60) scale(1,1.05)" font-size="29.9" text-anchor="start">E<tspan font-size="23.92" dy="8.97">d</tspan><tspan dy="-6.67"> =</tspan><tspan dy="-2.3"> 90 MeV</tspan></text>
<text transform="translate(36.30,301.50) rotate(-90) scale(1,1.06)" font-size="32.0" text-anchor="start">d&#963;/dE<tspan font-size="25.60" dy="9.60">A</tspan><tspan dy="-9.60" dx="2.2" letter-spacing="0.18">&#160;&#160;(mb/MeV)</tspan></text>
<text transform="translate(36.30,618.92) rotate(-90) scale(1,1.06)" font-size="32.0" text-anchor="start">d&#963;/dE<tspan font-size="25.60" dy="9.60">A</tspan><tspan dy="-9.60" dx="2.2" letter-spacing="0.18">&#160;&#160;(mb/MeV)</tspan></text>
<text transform="translate(248.40,155.40)" font-size="25.0" text-anchor="start" fill="#ff0000">nonlocal</text>
<text transform="translate(248.40,182.70)" font-size="25.0" text-anchor="start" fill="#008000">local</text></g>
</svg>
</body></html>
